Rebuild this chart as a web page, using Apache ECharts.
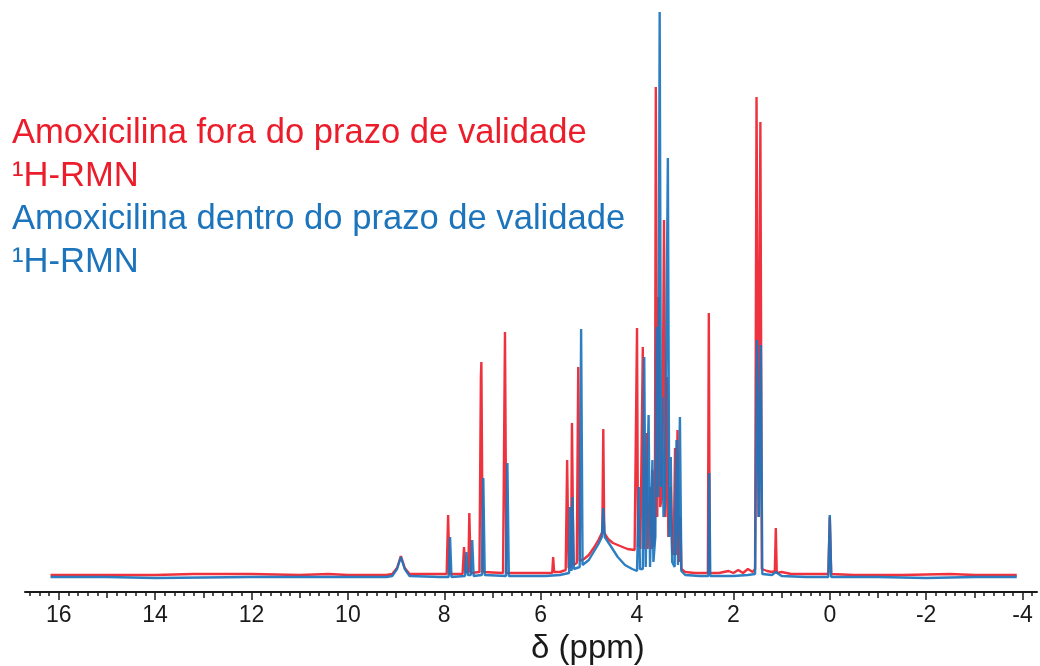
<!DOCTYPE html>
<html>
<head>
<meta charset="utf-8">
<script src="https://cdn.jsdelivr.net/npm/echarts@6/dist/echarts.min.js"></script>
<style>
html,body{margin:0;padding:0;background:#fff;}
#chart{width:1040px;height:666px;}
</style>
</head>
<body>
<div id="chart"></div>
<script>
// ---- data (chemical shift in ppm, intensity in arbitrary units) ----
const legendLines = [
  'Amoxicilina fora do prazo de validade',
  '\u00b9H-RMN',
  'Amoxicilina dentro do prazo de validade',
  '\u00b9H-RMN'
];
const axisTitle = '\u03b4 (ppm)';
const labelTicks = [16, 14, 12, 10, 8, 6, 4, 2, 0, -2, -4];

// expired sample (red)
const redSpectrum = [
  [16.17,2],[15.0,2],[14.0,2],[13.2,3],[12.0,3],[11.0,2],[10.4,3],[10.0,2],[9.2,2],
  [9.08,3],[8.98,9],[8.92,18],[8.90,21],[8.88,18],[8.82,9],[8.72,3],
  [8.2,3],[7.95,3],[7.92,62],[7.89,3],
  [7.62,3],[7.59,30],[7.56,5],[7.50,5],[7.48,64],[7.45,4],
  [7.27,5],[7.24,200],[7.23,215],[7.20,5],
  [6.78,4],[6.74,245],[6.71,4],
  [5.9,4],[5.76,4],[5.74,20],[5.72,5],
  [5.6,5],[5.48,7],[5.45,117],[5.42,9],[5.37,10],[5.35,154],[5.32,12],[5.25,14],[5.22,210],[5.19,16],
  [5.1,18],[5.0,22],[4.9,29],[4.8,37],[4.72,45],[4.70,148],[4.68,44],[4.6,38],[4.5,34],[4.35,31],[4.2,28],[4.05,27],
  [4.02,27],[4.00,249],[3.98,30],[3.95,60],[3.93,28],[3.90,28],[3.88,230],[3.86,28],[3.82,30],[3.80,144],[3.78,28],
  [3.74,30],[3.72,90],[3.70,28],[3.68,107],[3.66,30],[3.63,40],[3.61,490],[3.58,60],[3.55,280],[3.52,70],
  [3.48,80],[3.44,357],[3.41,60],[3.38,200],[3.35,40],[3.30,90],[3.27,25],[3.24,22],[3.21,129],[3.19,22],
  [3.16,147],[3.13,15],[3.10,60],[3.08,8],[3.0,5],
  [2.8,4],[2.6,4],[2.53,4],[2.51,264],[2.49,4],
  [2.3,4],[2.1,6],[2.0,4],[1.9,7],[1.8,4],[1.7,8],[1.6,5],
  [1.55,8],[1.52,480],[1.48,60],[1.44,455],[1.41,8],
  [1.3,6],[1.2,5],[1.14,6],[1.12,49],[1.10,4],[1.0,5],[0.8,3],[0.5,3],
  [0.03,3],[0.0,60],[-0.03,3],[-0.5,2],[-1.5,2],[-2.5,3],[-3.0,2],[-3.88,2]
];

// in-date sample (blue)
const blueSpectrum = [
  [16.17,0],[15.0,0],[14.0,-1],[12.0,0],[10.0,0],[9.2,0],
  [9.08,1],[8.98,8],[8.92,17],[8.90,20],[8.88,17],[8.82,8],[8.72,1],
  [8.1,0],[7.91,0],[7.88,40],[7.85,0],
  [7.57,1],[7.54,25],[7.51,2],[7.45,2],[7.42,37],[7.39,1],
  [7.22,2],[7.19,99],[7.16,2],
  [6.72,1],[6.69,114],[6.66,1],
  [5.9,1],[5.6,2],[5.41,4],[5.39,70],[5.36,6],[5.34,80],[5.31,8],[5.19,10],[5.16,248],[5.13,12],
  [5.0,17],[4.9,25],[4.8,33],[4.73,40],[4.70,69],[4.67,40],[4.56,32],[4.4,20],[4.25,12],[4.1,8],[4.0,6],
  [3.98,6],[3.96,90],[3.94,8],[3.88,8],[3.85,220],[3.82,10],[3.79,10],[3.76,162],[3.73,10],[3.70,12],
  [3.68,117],[3.66,15],[3.62,40],[3.59,250],[3.56,80],[3.53,565],[3.50,90],[3.48,180],[3.45,60],[3.42,70],
  [3.36,419],[3.33,40],[3.30,120],[3.27,15],[3.22,10],[3.18,137],[3.15,12],[3.11,160],[3.08,6],[3.0,2],
  [2.7,1],[2.52,1],[2.50,104],[2.48,1],
  [2.0,1],[1.7,2],[1.55,3],[1.51,237],[1.47,60],[1.43,232],[1.40,3],[1.2,2],[1.12,5],[1.0,1],[0.5,0],
  [0.03,0],[0.0,62],[-0.03,0],[-1.0,0],[-2.0,-1],[-3.0,0],[-3.88,0]
];

// ---- chart ----
const RED = '#EC1D2A';
const BLUE = '#1C74BC';
const X_MIN = -4.3, X_MAX = 16.7;

const minorTicks = [];
for (let i = -21; i <= 83; i++) minorTicks.push(+(i * 0.2).toFixed(1));
const unitTicks = [];
for (let i = -4; i <= 16; i++) unitTicks.push(i);

function xAx(ticks, len, showLine, showLabel) {
  return {
    type: 'value', min: X_MIN, max: X_MAX, inverse: true,
    position: 'bottom', offset: 0, gridIndex: 0,
    splitLine: { show: false },
    axisLine: { show: showLine, onZero: false, lineStyle: { color: '#1a1a1a', width: 2 } },
    axisTick: { show: true, inside: false, length: len, customValues: ticks,
      lineStyle: { color: '#1a1a1a', width: 1.5 } },
    axisLabel: showLabel ? {
      show: true, customValues: labelTicks, margin: 12,
      fontFamily: 'Liberation Sans, Arial, sans-serif', fontSize: 23, color: '#1a1a1a'
    } : { show: false }
  };
}

const chart = echarts.init(document.getElementById('chart'), null, { renderer: 'canvas' });
const textTops = [116, 159, 202, 245];
const textColors = [RED, RED, BLUE, BLUE];

chart.setOption({
  animation: false,
  backgroundColor: '#ffffff',
  grid: { left: 25, right: 3, top: 12, bottom: 74, containLabel: false },
  xAxis: [
    xAx(minorTicks, 4, true, false),
    xAx(unitTicks, 6, false, false),
    xAx(labelTicks, 8, false, true)
  ],
  yAxis: { type: 'value', min: -15, max: 565, show: false, splitLine: { show: false } },
  series: [
    { name: legendLines[0], type: 'line', data: redSpectrum, xAxisIndex: 0,
      showSymbol: false, smooth: false, clip: true,
      lineStyle: { color: RED, width: 2.4, opacity: 0.9 }, z: 2 },
    { name: legendLines[2], type: 'line', data: blueSpectrum, xAxisIndex: 0,
      showSymbol: false, smooth: false, clip: true,
      lineStyle: { color: BLUE, width: 2.4, opacity: 0.92 }, z: 3 }
  ],
  graphic: legendLines.map((t, i) => ({
    type: 'text', left: 12, top: textTops[i], silent: true,
    style: { text: t, fill: textColors[i], font: '34.6px "Liberation Sans", Arial, sans-serif' }
  })).concat([{
    type: 'text', left: 531, top: 632, silent: true,
    style: { text: axisTitle, fill: '#1a1a1a', font: '33px "Liberation Sans", Arial, sans-serif' }
  }])
});
</script>
</body>
</html>
